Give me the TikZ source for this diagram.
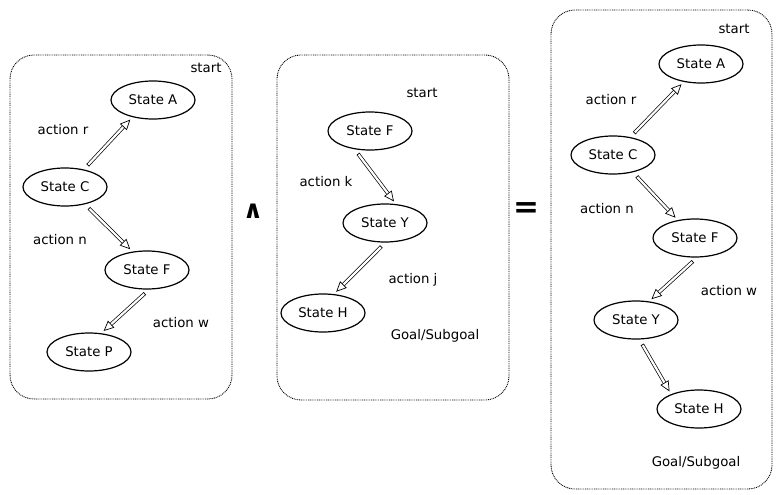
\documentclass[tikz,border=0pt]{standalone}
\usepackage{fontspec}
\setmainfont{DejaVu Sans}
\usetikzlibrary{shapes.geometric,decorations.markings}

\tikzset{
  panel/.style={draw, line width=0.9pt, dash pattern=on 0.9pt off 0.9pt,
    rounded corners=24pt, inner sep=0pt},
  statenode/.style={draw, ellipse, line width=1.2pt, minimum width=84pt,
    minimum height=38pt, inner sep=0pt, font=\fontsize{13.3}{15}\selectfont},
  lbl/.style={inner sep=0pt, text height=9.5pt, text depth=0pt,
    font=\fontsize{13.3}{15}\selectfont},
  % hollow block arrow: double shaft, closed tail, open triangular head
  fat/.style={
    postaction={draw, line width=0.7pt, double distance=2.2pt,
      shorten <=6pt, shorten >=12.6pt},
    postaction={decorate, decoration={markings,
      mark=at position 6pt with {\draw[line width=0.7pt] (0,-1.8pt) -- (0,1.8pt);},
      mark=at position -4pt with {\draw[line width=0.7pt, fill=white, line join=miter]
        (0,0) -- (-9pt,4.2pt) -- (-9pt,-4.2pt) -- cycle;}}}
  }
}

\begin{document}
\begin{tikzpicture}[x=1pt, y=-1pt]
\useasboundingbox (0,0) rectangle (779,495);

% dotted panels
\node[panel, minimum width=222pt, minimum height=344pt] (box1) at (121,227) {};
\node[panel, minimum width=232pt, minimum height=345pt] (box2) at (393,227.5) {};
\node[panel, minimum width=221pt, minimum height=479pt] (box3) at (661.5,249.5) {};

% operators between the panels
\node[inner sep=0pt, font=\fontsize{25}{25}\selectfont\bfseries] (andop) at (253,211) {∧};
\node[inner sep=0pt, font=\fontsize{31}{31}\selectfont\bfseries] (eqop) at (526,210) {=};

% first panel
\node[statenode] (A1) at (153,100) {State A};
\node[statenode] (C1) at (65,187) {State C};
\node[statenode] (F1) at (147,270) {State F};
\node[statenode] (P1) at (89,352) {State P};
\node[lbl] (s1) at (206,68) {start};
\node[lbl] (r1) at (63,130) {action r};
\node[lbl] (n1) at (60,240) {action n};
\node[lbl] (w1) at (181,323) {action w};
\path[fat] (C1.43) -- (A1.-140);
\path[fat] (C1.-41) -- (F1.128);
\path[fat] (F1.-84) -- (P1.57);

% second panel
\node[statenode] (F2) at (370,131) {State F};
\node[statenode] (Y2) at (385,223) {State Y};
\node[statenode] (H2) at (323,313) {State H};
\node[lbl] (s2) at (422,93) {start};
\node[lbl] (k2) at (326,182) {action k};
\node[lbl] (j2) at (413,279) {action j};
\node[lbl] (g2) at (435,335) {Goal/Subgoal};
\path[fat] (F2.-130) -- (Y2.60);
\path[fat] (Y2.-89) -- (H2.60);

% combined panel
\node[statenode] (A3) at (701,64) {State A};
\node[statenode] (C3) at (613,155) {State C};
\node[statenode] (F3) at (695,238) {State F};
\node[statenode] (Y3) at (636,320) {State Y};
\node[statenode] (H3) at (699,409) {State H};
\node[lbl] (s3) at (734,29) {start};
\node[lbl] (r3) at (611,100) {action r};
\node[lbl] (n3) at (607,209) {action n};
\node[lbl] (w3) at (729,291) {action w};
\node[lbl] (g3) at (696,462) {Goal/Subgoal};
\path[fat] (C3.46) -- (A3.-134);
\path[fat] (C3.-41) -- (F3.134);
\path[fat] (F3.-84) -- (Y3.55);
\path[fat] (Y3.-80) -- (H3.152);
\end{tikzpicture}
\end{document}
